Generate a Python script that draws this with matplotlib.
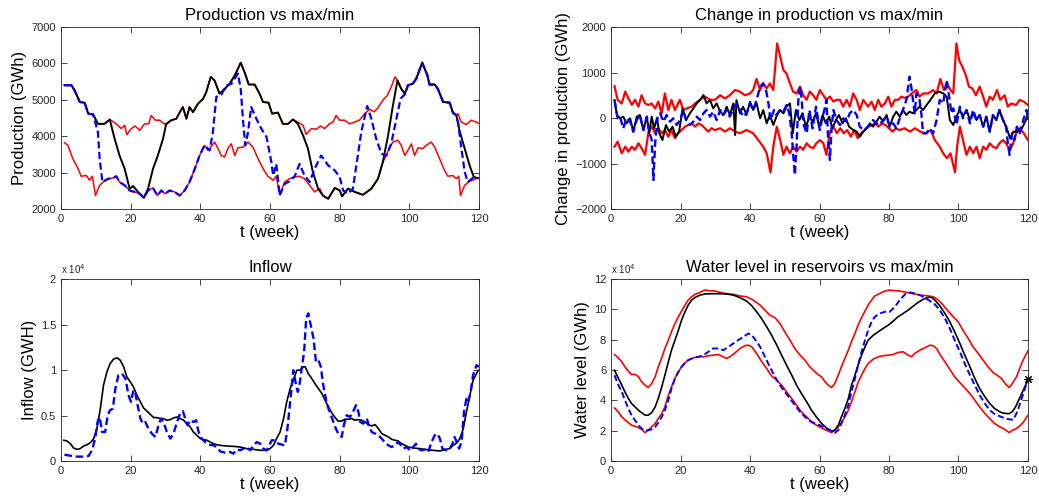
import matplotlib
matplotlib.use('Agg')
import matplotlib.pyplot as plt

plt.rcParams['font.family'] = ['Liberation Sans', 'DejaVu Sans']

weeks_ticks = [0, 20, 40, 60, 80, 100, 120]

# ---- production (GWh), (week, value)
prod_black = [(1,5400),(3,5400),(3.9,5260),(5.4,4940),(6.8,4920),(7.8,4620),(9.2,4600),(10.6,4340),(12.5,4340),(14,4460),
              (15.4,3930),(16.8,3470),(18.3,3100),(19.7,2560),(20.7,2630),(22.1,2470),(23.8,2310),(25,2560),(26.4,3100),
              (27.8,3470),(29.3,3930),(30.2,4340),(31.7,4440),(33.1,4480),(34.1,4660),(35,4800),(36,4480),(36.9,4800),
              (37.9,4660),(39.3,4890),(40.8,5030),(41.7,5210),(43,5630),(44.1,5530),(45.5,5170),(47,5300),(48.4,5440),
              (49.9,5670),(51.6,6020),(52.7,5760),(53.9,5420),(55.6,5420),(57,5170),(58,4940),(59.6,4920),(60.6,4620),
              (62.3,4650),(63.7,4340),(65.2,4340),(66.6,4460),(68,4340),(69.5,4020),(70.9,3660),(72.3,3020),(73.8,2560),
              (75.2,2370),(76.7,2280),(78.6,2580),(80,2510),(80.7,2350),(82.4,2560),(84.3,2470),(86.7,2390),(89.1,2560),
              (91,2830),(92.4,3290),(93.9,4020),(95.3,4850),(96.6,5530),(97.7,5300),(98.7,5170),(99.6,5400),(101,5440),
              (102,5580),(103.7,6020),(105.2,5670),(105.8,5420),(107.3,5420),(108.2,5300),(109.7,4940),(111.6,4920),
              (112.5,4650),(113.5,4570),(114.4,4160),(115.9,3660),(117.3,3200),(118.5,2880),(119.6,2850)]

prod_blue = [(1,5400),(3,5400),(3.9,5260),(5.4,4940),(6.8,4920),(7.8,4620),(9.2,4600),(10.6,4110),(11.1,3380),(11.9,2740),
             (13.5,2830),(14.9,2850),(15.9,2900),(16.8,2740),(18.3,2650),(19.7,2510),(21.1,2470),(22.6,2420),(23.8,2310),
             (25,2510),(26.4,2580),(27.7,2370),(28.8,2510),(29.9,2420),(31.2,2510),(32.6,2470),(34.1,2370),(35.5,2510),
             (36.9,2740),(38.4,3100),(39.8,3470),(41.2,3750),(42.7,3610),(43.6,4110),(44.6,5080),(46,5140),(47.5,5390),
             (48.9,5440),(50.8,5720),(51.6,5300),(52.3,4390),(52.9,3750),(53.7,4110),(54.6,4800),(56.1,4480),(57.5,4210),
             (59,3980),(60.4,3290),(60.9,2920),(61.8,3240),(62.8,2370),(64.2,2690),(65.6,2760),(67.1,2900),(68.5,3240),
             (69.9,2920),(71.4,2740),(72.8,3100),(74.7,3470),(76.7,3200),(78.6,3060),(80,2880),(81,2510),(82.4,2420),
             (83.8,2560),(84.8,3200),(86.2,4110),(87.9,4830),(89.1,4480),(90.5,3930),(92,3520),(93.4,3470),(94.8,3790),
             (96.3,4480),(97.5,5030),(98.9,5170),(99.6,5400),(101,5440),(102,5580),(103.7,6020),(105.2,5670),(105.8,5420),
             (107.3,5420),(108.2,5300),(109.7,4940),(111.6,4920),(112.5,4650),(113.5,4570),(114,4390),(114.7,3840),
             (115.9,3020),(116.8,2740),(118.2,2850),(120,2850)]

prod_max = [(1,5400),(3,5400),(3.9,5260),(5.4,4940),(6.8,4920),(7.8,4620),(9.2,4600),(10.6,4340),(12.5,4340),(14,4460),
            (15.9,4340),(17.3,4210),(18.3,4300),(18.9,4040),(20.2,4210),(21.3,4280),(22.6,4160),(24,4340),(25.2,4340),
            (25.9,4570),(27.1,4440),(28.3,4440),(29.6,4340),(30.5,4340),(31.7,4440),(33.1,4480),(34.1,4660),(35,4800),
            (36,4480),(36.9,4800),(37.9,4660),(39.3,4890),(40.8,5030),(41.7,5210),(43,5630),(44.1,5530),(45.5,5170),
            (47,5300),(48.4,5440),(49.9,5670),(51.6,6020),(52.7,5760),(53.9,5420),(55.6,5420),(57,5170),(58,4940),
            (59.6,4920),(60.6,4620),(62.3,4650),(63.7,4340),(65.2,4340),(66.6,4460),(68,4390),(69.5,4300),(70.4,4050),
            (71.9,4210),(73.3,4190),(74.5,4280),(75.7,4210),(77.1,4340),(78.1,4390),(79,4570),(80,4440),(81.4,4440),
            (82.9,4340),(84.3,4390),(85.7,4440),(87.2,4620),(88.6,4740),(89.9,4670),(91,4780),(92.4,4990),(93.7,5120),
            (94.8,5350),(95.9,5630),(96.6,5530),(97.7,5300),(98.7,5170),(99.6,5400),(101,5440),(102,5580),(103.7,6020),
            (105.2,5670),(105.8,5420),(107.3,5420),(108.2,5300),(109.7,4940),(111.6,4920),(112.5,4650),(113.5,4570),
            (114,4620),(114.9,4390),(116.4,4320),(117.8,4440),(119.2,4390),(120,4350)]

prod_min = [(1,3820),(2,3750),(3.4,3380),(4.9,3110),(5.8,2900),(7.3,2920),(8.2,2790),(9,2900),(9.9,2370),(11.1,2650),
            (12.1,2740),(13.5,2830),(14.9,2850),(15.9,2900),(16.8,2740),(18.3,2650),(19.7,2510),(21.1,2470),(22.6,2420),
            (23.8,2310),(25,2510),(26.4,2580),(27.7,2370),(28.8,2510),(29.9,2420),(31.2,2510),(32.6,2470),(34.1,2370),
            (35.5,2510),(36.9,2740),(38.4,3100),(39.8,3470),(41.2,3750),(42.2,3610),(43,3700),(44.1,3840),(45.1,3660),
            (46,3470),(47,3430),(47.9,3660),(48.9,3790),(49.9,3470),(50.8,3680),(52.3,3700),(53.7,3840),(55.1,3700),
            (56.6,3380),(58,3110),(59.4,2900),(60.9,2790),(61.8,2900),(62.8,2390),(64.2,2740),(65.6,2830),(67.1,2880),
            (68.5,2900),(69.9,2830),(71.4,2650),(72.8,2470),(74.3,2560),(75.2,2370),(76.7,2280),(78.6,2580),(80,2510),
            (80.7,2350),(82.4,2560),(84.3,2470),(86.7,2390),(89.1,2560),(91,2830),(92.4,3290),(93.4,3470),(94.4,3700),
            (95.3,3840),(96.7,3890),(97.7,3750),(98.7,3470),(99.6,3610),(100.6,3790),(101.5,3470),(102.5,3680),
            (103.9,3660),(104.9,3750),(106.3,3840),(107.3,3700),(108.7,3380),(110.1,3060),(111.1,2900),(112.5,2920),
            (113.5,2830),(114.2,2900),(114.7,2370),(115.9,2650),(117.3,2760),(119.6,2850)]

# ---- change in production (GWh)
chg_max = [(1,700),(1.9,400),(3.1,320),(4.1,580),(5,430),(6,290),(6.9,400),(7.9,250),(8.8,500),(9.8,320),(10.8,285),
           (11.7,320),(12.7,210),(13.6,360),(14.6,100),(15.5,540),(16.5,175),(17.4,400),(18.4,175),(19.8,400),(20.8,175),
           (21.8,210),(23.2,250),(24.2,320),(25.6,400),(27,470),(28.5,400),(29.9,400),(31.4,500),(32.8,430),(34.2,500),
           (35.7,615),(37.1,580),(38.5,500),(40,540),(40.9,615),(41.9,860),(42.9,615),(43.8,760),(44.8,650),(45.7,760),
           (46.7,615),(47.8,1640),(48.8,1310),(49.6,1055),(50.5,980),(51.5,760),(52.4,580),(53.4,540),(54.4,690),
           (55.3,500),(56.3,400),(57.2,580),(58.2,500),(59.1,400),(60.1,615),(61.1,500),(62,400),(63,470),(64,360),
           (64.9,400),(65.9,400),(66.8,250),(67.8,400),(68.7,250),(69.7,540),(70.7,400),(71.6,175),(72.6,400),(74,250),
           (75,360),(75.9,175),(76.9,400),(77.8,250),(78.8,320),(79.8,470),(80.7,250),(81.7,400),(82.6,400),(83.6,470),
           (85,430),(86.5,540),(87.9,615),(88.8,470),(89.8,540),(91.3,540),(92.7,615),(93.7,540),(94.8,860),(95.8,615),
           (96.7,760),(97.7,615),(98.5,540),(99.4,1640),(100.2,1270),(101.1,1130),(102.1,945),(103,690),(104,650),
           (105,500),(106.1,690),(107.1,470),(108,250),(109,470),(109.9,400),(111.1,615),(112,400),(113.3,500),
           (114.2,250),(115.2,320),(116.6,285),(117.6,400),(118.8,360),(120,285)]

chg_min = [(1,-630),(1.9,-520),(3.1,-775),(4.1,-630),(5,-740),(6,-630),(6.9,-700),(7.9,-555),(8.8,-665),(9.8,-810),
           (10.8,-300),(11.7,-190),(12.7,-335),(13.6,-225),(14.6,-335),(15.5,-265),(16.5,-410),(17.4,-265),(18.4,-445),
           (19.3,-335),(20.3,-265),(21.3,-190),(22.2,-155),(23.2,-120),(24.2,-190),(25.1,-120),(26.1,-155),(27,-225),
           (28,-300),(28.9,-225),(29.9,-265),(31.4,-225),(32.8,-300),(34.2,-225),(35.7,-300),(37.1,-335),(39,-265),
           (40.9,-335),(42.4,-485),(43.8,-630),(44.8,-775),(45.9,-1195),(46.7,-630),(47.7,-190),(48.7,-485),(49.6,-810),
           (50.5,-630),(51.5,-775),(52.4,-630),(53.4,-740),(54.4,-630),(55.3,-700),(56.3,-555),(57.2,-630),(58.2,-665),
           (59.1,-555),(60.1,-485),(61.1,-555),(62,-810),(63,-300),(64,-190),(65,-335),(66,-225),(67,-335),(68,-265),
           (69,-410),(70,-265),(71,-445),(72,-335),(73,-265),(74,-190),(75,-155),(76,-120),(77,-190),(78,-120),(79,-155),
           (80,-225),(81,-300),(82,-225),(83,-265),(84.5,-225),(86,-300),(87.5,-225),(89,-300),(90.5,-335),(92,-265),
           (93.2,-485),(94.6,-630),(95.6,-775),(96.7,-885),(97.7,-775),(99,-1195),(99.6,-630),(100.4,-190),(101.3,-485),
           (102.3,-810),(103.3,-630),(104.2,-775),(105.2,-630),(106.1,-885),(107.1,-630),(108,-700),(109,-555),
           (109.9,-630),(110.9,-665),(111.8,-555),(112.8,-485),(113.7,-555),(114.7,-700),(115.6,-590),(116.6,-335),
           (117.6,-225),(118.8,-335),(120,-485)]

chg_black = [(1,396),(1.7,66),(2.6,-7),(3.5,30),(4.5,-117),(5.5,-7),(6.4,-300),(7.4,30),(8.3,66),(9.3,-264),(10.3,30),
             (11,-337),(11.7,30),(12.4,-227),(13.2,-7),(13.9,-337),(14.8,-484),(15.8,-154),(16.7,-300),(17.7,-190),
             (18.6,-410),(19.6,-300),(20.6,212),(21.6,-44),(22.7,103),(23.7,212),(24.7,322),(25.6,396),(26.6,505),
             (27.5,322),(28.5,396),(29.4,212),(30.4,322),(31.4,139),(32.3,66),(33.3,249),(34.2,66),(35.2,322),(35.7,-374),
             (36.1,396),(37.1,103),(38,249),(39,66),(40,359),(40.9,176),(41.9,322),(42.9,-7),(43.8,176),(44.8,-117),
             (45.7,66),(46.7,-154),(47.6,30),(48.6,176),(49.6,103),(50.5,249),(51.5,322),(52.3,-337),(53.2,176),(54.2,-44),
             (55.1,103),(56.1,-190),(57.1,30),(58,-80),(59,103),(59.9,-190),(60.9,66),(61.8,-117),(62.8,30),(63.7,-227),
             (64.7,-44),(65.6,66),(66.6,-117),(67.6,-7),(68.5,-190),(69.7,-264),(70.7,-300),(71.6,-410),(72.6,-300),
             (73.5,-227),(74.5,-117),(75.4,-190),(76.4,-80),(77.3,30),(78.3,-80),(79.3,66),(80.2,-190),(81.2,30),
             (82.1,139),(83.1,30),(84,176),(85,66),(85.9,139),(86.9,103),(87.9,176),(88.8,249),(89.8,176),(90.8,285),
             (91.9,396),(93.2,542),(94.4,579),(95.6,542),(96.6,469),(97.5,-44),(98.5,-154),(99.4,30),(100.4,176),
             (101.3,30),(102.3,176),(103.3,-44),(104.2,103),(105.2,-44),(106.1,66),(107.1,-190),(108,30),(109,-300),
             (109.9,66),(110.9,-44),(111.8,176),(112.8,-44),(113.7,-190),(114.9,-454),(115.8,-300),(116.8,-308),
             (118.2,-234),(119.6,-15),(120,100)]

chg_blue = [(1,396),(1.9,-7),(2.6,30),(3.5,-227),(4.5,-7),(5.5,-80),(6.4,-300),(7.4,-44),(8.3,66),(9.3,-264),(10.3,30),
            (11,-300),(11.7,-484),(12.2,-1363),(12.7,-557),(13.4,30),(14.1,103),(15.1,-80),(16,66),(17,-80),(17.9,-7),
            (18.9,-154),(19.9,-44),(20.8,176),(21.6,-44),(22.7,-154),(23.7,-80),(24.7,30),(25.6,-44),(26.6,103),
            (27.5,176),(28.5,30),(29.4,139),(30.4,-44),(31.4,176),(32.3,66),(33.3,176),(34.2,30),(35.2,212),(36.1,322),
            (37.1,176),(38,30),(39,103),(40,322),(40.9,176),(41.9,396),(42.9,689),(43.8,762),(44.6,615),(45.3,322),
            (45.9,-44),(46.9,176),(47.6,66),(48.6,176),(49.6,139),(50.5,285),(51.3,103),(52,-337),(52.4,-776),
            (52.9,-1252),(53.4,-630),(53.9,396),(54.4,689),(54.9,396),(55.3,-117),(56.3,-337),(57.1,176),(58,-227),
            (59,249),(60.1,-264),(60.9,30),(61.4,176),(62,396),(62.5,-484),(63,-923),(63.5,-190),(64,176),(64.9,-44),
            (65.9,-154),(66.8,-7),(67.8,-80),(68.7,103),(69.7,176),(70.7,66),(71.6,-190),(72.6,-264),(73.5,-227),
            (74.5,-154),(75.4,-44),(76.4,-117),(77.3,-154),(78.3,-44),(79.3,30),(80.2,-190),(81.2,-117),(82.1,-227),
            (83.1,-7),(84,176),(85,396),(85.5,689),(85.9,909),(86.4,689),(86.9,396),(87.4,103),(87.9,542),(88.8,396),
            (89.3,103),(89.8,-337),(90.8,-337),(91.7,-227),(92.7,-337),(93.7,-44),(94.6,396),(95.6,322),(96.6,835),
            (97.3,469),(98,103),(98.5,212),(99.4,-154),(100.4,249),(101.3,-7),(102.3,176),(103.3,-117),(104.2,176),
            (105.2,-44),(106.1,66),(107.1,-190),(108,30),(109,-300),(109.9,66),(110.9,-44),(111.8,176),(112.8,-44),
            (113.7,-190),(114.2,-557),(114.7,-813),(115.4,-337),(116.1,-484),(116.8,-190),(117.6,-337),(118.4,-117),
            (119.1,66),(119.6,176),(120,-44)]

# ---- inflow (x 10^4 GWh)
inflow_black = [(0.8,0.228),(1.7,0.22),(2.7,0.19),(3.6,0.143),(4.6,0.128),(5.5,0.136),(6.5,0.165),(7.5,0.18),(8.4,0.2),
                (9.4,0.246),(10.3,0.356),(11.3,0.576),(12.2,0.833),(13.2,0.98),(14.1,1.07),(15.1,1.12),(16.1,1.134),
                (17,1.108),(18,1.035),(18.9,0.925),(19.9,0.87),(20.8,0.815),(21.8,0.723),(22.8,0.65),(23.7,0.583),
                (24.7,0.547),(25.6,0.514),(26.6,0.477),(27.5,0.477),(28.5,0.466),(29.4,0.466),(30.4,0.448),(31.4,0.455),
                (32.3,0.473),(33.3,0.484),(34.2,0.466),(35.2,0.448),(36.1,0.411),(37.1,0.374),(38,0.319),(39,0.283),
                (40,0.246),(40.9,0.235),(41.9,0.228),(42.8,0.209),(43.8,0.19),(44.7,0.18),(45.7,0.172),(47.6,0.165),
                (49.5,0.161),(51.4,0.154),(53.3,0.136),(55.3,0.128),(57.2,0.117),(59.1,0.117),(60,0.136),(61,0.172),
                (61.9,0.246),(62.9,0.319),(63.9,0.466),(64.8,0.65),(65.8,0.796),(66.7,0.888),(67.7,0.998),(68.6,0.998),
                (69.6,1.035),(70.1,1.035),(71,0.961),(72,0.906),(72.9,0.851),(73.9,0.796),(74.9,0.741),(75.8,0.668),
                (76.8,0.594),(77.7,0.532),(78.7,0.477),(79.6,0.437),(80.6,0.44),(81.5,0.459),(82.5,0.459),(83.5,0.466),
                (84.4,0.448),(85.4,0.455),(86.3,0.448),(87.3,0.429),(88.2,0.4),(89.2,0.385),(90.2,0.4),(91.1,0.356),
                (92.1,0.301),(93,0.283),(94,0.264),(94.9,0.239),(95.9,0.228),(96.8,0.22),(97.8,0.19),(98.8,0.172),
                (99.7,0.154),(101.1,0.143),(103.1,0.136),(105,0.125),(106.9,0.117),(108.8,0.11),(110.2,0.125),
                (111.6,0.136),(112.6,0.172),(113.6,0.198),(114.5,0.246),(115.5,0.356),(116.4,0.539),(117.4,0.723),
                (118.3,0.888),(119.8,0.998)]

inflow_blue = [(1,0.07),(2,0.062),(3.2,0.055),(4.6,0.048),(6.5,0.048),(7.9,0.055),(8.9,0.117),(9.8,0.246),(10.5,0.43),
               (11.1,0.484),(11.8,0.319),(12.7,0.319),(13.4,0.503),(14.1,0.558),(14.9,0.576),(15.6,0.796),(16.5,0.943),
               (17.5,0.961),(18.5,0.906),(19.4,0.723),(20.1,0.65),(20.8,0.778),(21.3,0.76),(22,0.613),(22.8,0.466),
               (23.5,0.411),(24.2,0.429),(25.1,0.356),(26.1,0.301),(27.1,0.264),(28,0.393),(28.7,0.466),(29.4,0.429),
               (30.4,0.319),(31.4,0.246),(32.3,0.301),(33.3,0.429),(34.2,0.521),(35,0.547),(35.7,0.466),(36.3,0.393),
               (37.1,0.448),(38,0.429),(38.8,0.448),(39.5,0.319),(40.4,0.246),(41.4,0.209),(42.4,0.18),(43.8,0.172),
               (44.7,0.154),(45.7,0.106),(47.1,0.092),(48.6,0.099),(49.5,0.081),(50.5,0.128),(51.4,0.117),(52.4,0.136),
               (53.3,0.154),(54.3,0.117),(55.3,0.172),(56.2,0.209),(57.2,0.19),(58.1,0.136),(59.1,0.117),(60,0.19),
               (60.5,0.228),(61.5,0.228),(62.4,0.19),(63.4,0.18),(64.3,0.172),(65,0.356),(65.8,0.65),(66.7,0.998),
               (67.5,0.833),(68,0.76),(68.6,0.87),(69.1,1.017),(69.8,1.2),(70.4,1.567),(71,1.622),(71.7,1.494),
               (72.5,1.347),(73.2,1.09),(73.9,1.108),(74.6,1.035),(75.3,0.833),(76.1,0.668),(76.8,0.576),(77.7,0.484),
               (78.7,0.374),(79.6,0.301),(80.6,0.264),(81.2,0.393),(82,0.503),(83,0.484),(83.9,0.547),(84.7,0.613),
               (85.4,0.539),(85.9,0.429),(86.8,0.411),(87.8,0.466),(88.5,0.374),(89.2,0.319),(90.2,0.301),(91.1,0.283),
               (92.1,0.246),(93,0.202),(94,0.172),(94.9,0.154),(95.9,0.172),(96.8,0.209),(97.6,0.172),(98.3,0.136),
               (99.2,0.154),(100.2,0.117),(101.1,0.154),(101.9,0.19),(102.5,0.136),(103.5,0.117),(104.5,0.125),
               (105.4,0.099),(106.4,0.209),(107.3,0.283),(108,0.301),(108.8,0.246),(109.5,0.136),(110.7,0.117),
               (111.6,0.136),(112.4,0.19),(113,0.264),(113.6,0.209),(114.3,0.136),(115,0.209),(115.7,0.539),(116.4,0.686),
               (116.9,0.65),(117.6,0.76),(118.3,0.943),(119.3,1.053),(120,1.035)]

# ---- water level (x 10^4 GWh)
wl_max = [(1,7.02),(2.1,6.8),(3.1,6.54),(4,6.21),(5,5.92),(5.9,5.7),(6.9,5.72),(7.9,5.55),(8.8,5.22),(9.8,5.0),
          (10.7,4.84),(11.7,5.11),(12.7,5.55),(13.6,6.21),(14.6,6.8),(15.5,7.42),(16.5,7.97),(17.4,8.52),(18.4,9.07),
          (19.4,9.51),(20.3,9.89),(21.3,10.28),(22.2,10.61),(23.2,10.83),(24.2,10.99),(25.6,11.12),(27,11.27),
          (28.5,11.23),(29.9,11.21),(31.4,11.12),(33.3,11.03),(35.2,10.99),(37.1,10.88),(39,10.83),(40.9,10.61),
          (42.9,10.28),(44.3,9.95),(45.7,9.62),(47.2,9.45),(48.6,9.07),(50,8.52),(51.5,7.97),(52.9,7.42),(54.4,6.98),
          (55.8,6.65),(57.2,6.21),(58.7,5.88),(59.6,5.7),(60.6,5.55),(61.6,5.22),(62.5,5.0),(63.5,4.84),(64.4,5.11),
          (65.4,5.66),(66.3,6.21),(67.3,6.76),(68.3,7.31),(69.2,7.86),(70.2,8.41),(71.1,8.96),(72.1,9.45),(73.1,9.89),
          (74,10.28),(75,10.61),(75.9,10.88),(77.4,11.05),(78.8,11.21),(80.2,11.27),(81.7,11.23),(83.1,11.21),(85,11.12),
          (87,11.03),(88.9,10.94),(90.8,10.9),(92.7,10.83),(94.2,10.61),(95.6,10.28),(97,9.89),(98.5,9.51),(99.9,9.18),
          (101.3,8.63),(102.8,8.08),(104.2,7.53),(105.7,7.09),(107.1,6.65),(108.5,6.21),(110,5.83),(111.1,5.66),
          (112.4,5.44),(113.6,5.06),(114.6,4.84),(115.5,5.11),(116.7,5.55),(117.6,6.1),(118.6,6.65),(120,7.27)]

wl_min = [(1,3.5),(2.1,3.24),(3.1,2.91),(4.5,2.62),(5.9,2.36),(7.4,2.25),(8.8,2.09),(9.8,1.87),(10.7,2.03),(11.7,2.25),
          (12.7,2.47),(13.6,2.8),(14.6,3.13),(15.5,3.57),(16.5,4.34),(17.4,4.89),(18.4,5.44),(19.4,5.88),(20.3,6.21),
          (21.3,6.47),(22.2,6.65),(23.7,6.8),(25.1,6.87),(26.6,6.87),(28,6.94),(29.4,6.98),(30.9,7.02),(32.3,6.87),
          (33.3,6.76),(34.2,6.87),(35.7,7.13),(37.1,7.42),(38.5,7.6),(39.5,7.64),(40.5,7.53),(41.9,7.09),(43.3,6.58),
          (44.8,6.1),(46.2,5.61),(47.7,5.33),(49.1,5.0),(50.5,4.56),(52,4.12),(53.4,3.68),(54.8,3.24),(56.3,2.91),
          (57.7,2.58),(59.1,2.36),(60.6,2.18),(62,2.03),(63.5,1.87),(64.4,2.03),(65.4,2.25),(66.3,2.53),(67.3,2.91),
          (68.3,3.35),(69.2,3.9),(70.2,4.56),(71.1,5.17),(72.1,5.66),(73.1,6.1),(74,6.43),(75.5,6.72),(76.9,6.87),
          (78.3,6.94),(79.8,6.98),(81.2,7.02),(82.6,7.16),(84.1,7.2),(85.5,6.98),(86.5,6.87),(87.4,7.09),(88.9,7.31),
          (90.3,7.46),(91.8,7.64),(92.7,7.6),(93.7,7.42),(94.8,6.98),(96.1,6.54),(97.5,6.05),(98.9,5.55),(100.4,5.17),
          (101.8,4.82),(103.3,4.45),(104.7,4.01),(106.1,3.57),(107.6,3.13),(109,2.8),(110.4,2.47),(111.9,2.25),
          (113.3,2.09),(114.6,1.87),(115.5,2.03),(116.7,2.14),(117.6,2.31),(118.6,2.53),(120,3.02)]

wl_black = [(1,5.99),(1.9,5.55),(3.1,5.0),(4,4.56),(5,4.12),(5.9,3.79),(6.9,3.57),(7.9,3.35),(8.8,3.19),(9.8,3.02),
            (10.7,3.02),(11.7,3.19),(12.7,3.57),(13.6,4.12),(14.6,4.89),(15.5,5.66),(16.5,6.54),(17.4,7.31),(18.4,7.97),
            (19.4,8.63),(20.3,9.29),(21.3,9.84),(22.2,10.28),(23.2,10.61),(24.2,10.79),(25.6,10.94),(27,11.01),
            (28.9,11.03),(31.4,11.03),(33.3,11.01),(35.2,10.94),(37.1,10.77),(39,10.55),(40.5,10.24),(41.9,9.84),
            (43.3,9.4),(44.8,8.85),(46.2,8.3),(47.7,7.64),(49.1,6.98),(50.5,6.32),(52,5.66),(53.4,5.0),(54.8,4.45),
            (56.3,3.9),(57.7,3.35),(59.1,2.91),(60.6,2.47),(62,2.18),(63.5,1.98),(64.4,2.03),(65.4,2.36),(66.3,2.91),
            (67.3,3.46),(68.3,4.12),(69.2,5.0),(70.2,5.66),(71.1,6.32),(72.1,6.98),(73.1,7.53),(74,7.97),(75.5,8.3),
            (76.9,8.52),(78.3,8.74),(79.8,8.96),(81.2,9.22),(82.6,9.51),(84.1,9.73),(85.5,9.95),(87,10.22),(88.4,10.46),
            (89.8,10.66),(91.3,10.79),(92.2,10.79),(93.2,10.61),(94.6,10.24),(96.1,9.73),(97.5,9.18),(98.9,8.52),
            (100.4,7.75),(101.8,6.98),(103.3,6.21),(104.7,5.44),(106.1,4.78),(107.6,4.23),(109,3.79),(110.4,3.46),
            (111.9,3.24),(113,3.15),(114.5,3.12),(115.5,3.25),(116.5,3.6),(117.5,4.1),(118.5,4.6),(119.3,5.0),(120,5.4)]

wl_blue = [(1,5.66),(1.9,5.11),(3.1,4.56),(4,4.01),(5,3.46),(5.9,3.02),(6.9,2.69),(7.9,2.36),(8.8,2.14),(9.8,2.03),
           (10.7,2.03),(11.7,2.09),(12.7,2.25),(13.6,2.53),(14.6,2.91),(15.5,3.35),(16.5,4.01),(17.4,4.78),(18.4,5.44),
           (19.4,5.88),(20.3,6.21),(21.3,6.47),(22.2,6.65),(23.7,6.8),(25.1,6.87),(26.6,6.98),(28,7.2),(29.4,7.42),
           (30.9,7.42),(32.3,7.31),(33.8,7.53),(35.2,7.75),(36.6,7.97),(38.1,8.19),(39.5,8.41),(40.5,8.3),(41.4,8.04),
           (42.9,7.53),(44.3,6.87),(45.7,6.21),(47.2,5.55),(48.6,5.0),(50,4.56),(51.5,4.12),(52.9,3.68),(54.4,3.24),
           (55.8,2.91),(57.2,2.64),(58.7,2.47),(60.1,2.36),(61.6,2.18),(63,2.03),(64.4,1.85),(65.4,2.03),(66.3,2.47),
           (67.3,3.02),(68.3,3.68),(69.2,4.56),(70.2,5.44),(71.1,6.32),(72.1,7.2),(73.1,7.97),(74,8.63),(75,9.18),
           (75.9,9.51),(77.4,9.73),(78.8,9.84),(80.2,9.84),(81.7,10.17),(83.1,10.61),(84.6,10.99),(86,11.12),
           (87.4,11.05),(88.9,10.94),(90.3,10.77),(91.8,10.55),(93.2,10.33),(94.6,9.95),(96.1,9.4),(97.5,8.74),
           (98.9,7.97),(100.4,7.2),(101.8,6.43),(103.3,5.66),(104.7,5.0),(106.1,4.34),(107.6,3.79),(109,3.35),
           (110.4,3.1),(111.9,2.95),(113.3,2.82),(114.5,2.75),(115.8,2.72),(117,3.3),(118.3,4.2),(119.3,4.9),(120,5.4)]

red = '#ff0000'
blue = '#0000ff'


def draw(ax, series, color, ls='-', lw=1.3):
    t, v = zip(*series)
    if ls == '--':
        ax.plot(t, v, color=color, lw=lw, ls='--', dashes=(3.2, 1.6))
    else:
        ax.plot(t, v, color=color, lw=lw, ls=ls)


def style(ax, title, ylabel, ylim, yticks, yticklabels=None):
    ax.set_xlim(0, 120)
    ax.set_ylim(*ylim)
    ax.set_xticks(weeks_ticks)
    ax.set_yticks(yticks)
    if yticklabels is not None:
        ax.set_yticklabels(yticklabels)
    ax.tick_params(direction='in', top=True, right=True, length=4, width=0.6,
                   labelsize=8, colors='#262626')
    for s in ax.spines.values():
        s.set_linewidth(0.6)
        s.set_color('#262626')
    ax.set_title(title, fontsize=12, pad=5)
    ax.set_xlabel('t (week)', fontsize=12, labelpad=1)
    ax.set_ylabel(ylabel, fontsize=12, labelpad=3)


fig = plt.figure(figsize=(10.39, 5.04), dpi=100)
ax1 = fig.add_axes([0.0587, 0.5853, 0.4023, 0.3611])
ax2 = fig.add_axes([0.5881, 0.5853, 0.4013, 0.3611])
ax3 = fig.add_axes([0.0587, 0.0853, 0.4023, 0.3611])
ax4 = fig.add_axes([0.5881, 0.0853, 0.4013, 0.3611])

# production
draw(ax1, prod_max, red, lw=1.1)
draw(ax1, prod_min, red, lw=1.1)
draw(ax1, prod_black, 'k', lw=1.4)
draw(ax1, prod_blue, blue, '--', lw=1.6)
style(ax1, 'Production vs max/min', 'Production (GWh)', (2000, 7000), range(2000, 7001, 1000))

# change in production
draw(ax2, chg_max, red, lw=1.6)
draw(ax2, chg_min, red, lw=1.6)
draw(ax2, chg_black, 'k', lw=1.4)
draw(ax2, chg_blue, blue, '--', lw=1.7)
style(ax2, 'Change in production vs max/min', 'Change in production (GWh)', (-2000, 2000),
      range(-2000, 2001, 1000))

# inflow
draw(ax3, inflow_black, 'k', lw=1.2)
draw(ax3, inflow_blue, blue, '--', lw=1.7)
style(ax3, 'Inflow', 'Inflow (GWH)', (0, 2), [0, 0.5, 1, 1.5, 2], ['0', '0.5', '1', '1.5', '2'])
ax3.text(0, 1.015, r'x 10$^4$', transform=ax3.transAxes, fontsize=7, color='#262626',
         ha='left', va='bottom')

# water level
draw(ax4, wl_max, red, lw=1.2)
draw(ax4, wl_min, red, lw=1.2)
draw(ax4, wl_black, 'k', lw=1.2)
draw(ax4, wl_blue, blue, '--', lw=1.4)
ax4.plot([120], [5.4], ls='none', marker=(8, 2, 0), color='k', markersize=6,
         markeredgewidth=0.8, clip_on=False)
style(ax4, 'Water level in reservoirs vs max/min', 'Water level (GWh)', (0, 12), range(0, 13, 2))
ax4.text(0, 1.015, r'x 10$^4$', transform=ax4.transAxes, fontsize=7, color='#262626',
         ha='left', va='bottom')

fig.savefig('out.png', dpi=100)
